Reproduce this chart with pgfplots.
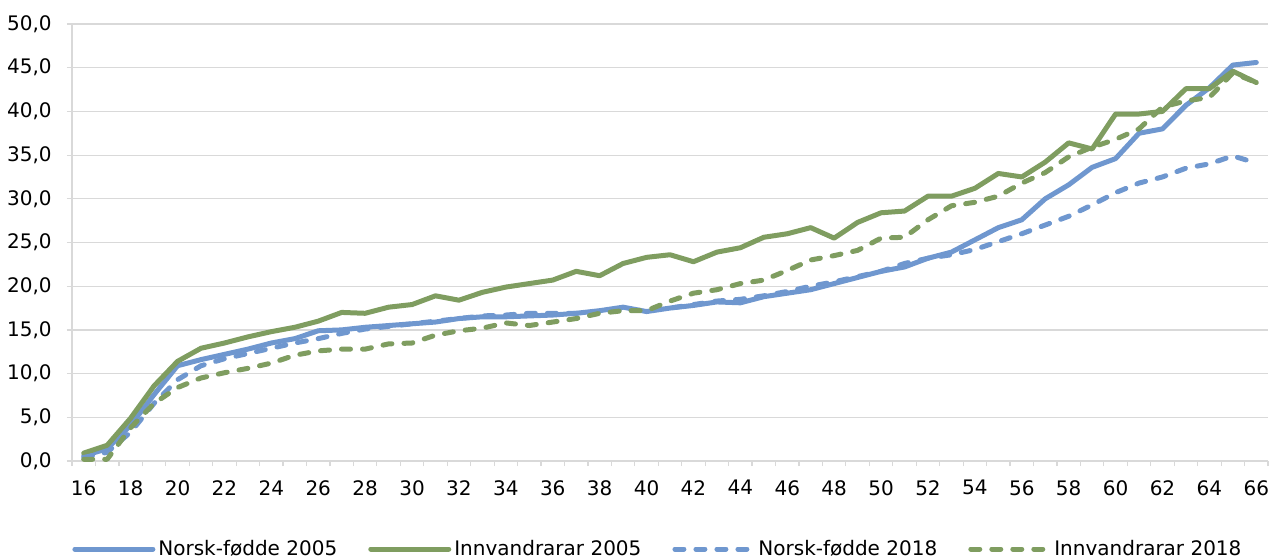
\documentclass[border=0pt]{standalone}
\usepackage{fontspec}
\setmainfont{DejaVu Sans}
\usepackage{pgfplots}
\pgfplotsset{compat=1.18}
\definecolor{cblue}{RGB}{111,151,207}
\definecolor{cgreen}{RGB}{127,157,96}
\definecolor{cgrid}{RGB}{217,217,217}
\begin{document}
\begin{tikzpicture}
\begin{axis}[
  name=ax,
  scale only axis,
  width=598pt, height=218.5pt,
  xmin=15.5, xmax=66.5,
  ymin=0, ymax=50,
  axis x line*=bottom, axis y line*=left,
  axis line style={cgrid, line width=0.6pt, -},
  xtick={16,18,...,66},
  minor xtick={15.5,16.5,...,66.5},
  ytick={0,5,...,50},
  ymajorgrids,
  grid style={cgrid, line width=0.6pt},
  tick align=outside,
  major tick length=2.5pt, minor tick length=2.5pt,
  tick style={cgrid, line width=0.6pt},
  major x tick style={draw=none},
  font=\fontsize{10pt}{12pt}\selectfont,
  tick label style={font=\fontsize{10pt}{12pt}\selectfont, text=black},
  /pgf/number format/assume math mode=true,
  yticklabel style={/pgf/number format/fixed, /pgf/number format/fixed zerofill, /pgf/number format/precision=1, /pgf/number format/use comma},
  yticklabel style={inner xsep=0pt, xshift=-7.5pt},
  xticklabel style={inner ysep=0pt, yshift=-7pt},
  clip=false,
  legend columns=4,
  legend cell align=left,
  legend image code/.code={\draw[#1] (0pt,0pt) -- (39pt,0pt);},
  legend style={at={(0,0)}, anchor=west, yshift=-44pt, draw=none, fill=none,
    inner sep=0pt, font=\fontsize{10pt}{12pt}\selectfont,
    nodes={inner xsep=1.5pt},
    /tikz/every even column/.append style={column sep=14pt}},
  every axis plot/.append style={line width=2.5pt, line cap=round, line join=round},
]
\addplot[cblue] coordinates {
(16,0.6)(17,1.4)(18,4.1)(19,7.6)(20,10.9)(21,11.6)(22,12.2)(23,12.8)(24,13.5)(25,14.0)
(26,14.9)(27,15.0)(28,15.3)(29,15.5)(30,15.7)(31,15.9)(32,16.3)(33,16.5)(34,16.5)(35,16.6)
(36,16.7)(37,16.9)(38,17.2)(39,17.6)(40,17.1)(41,17.5)(42,17.8)(43,18.2)(44,18.1)(45,18.8)
(46,19.2)(47,19.6)(48,20.3)(49,21.0)(50,21.7)(51,22.2)(52,23.2)(53,23.9)(54,25.3)(55,26.7)
(56,27.6)(57,30.0)(58,31.6)(59,33.6)(60,34.6)(61,37.5)(62,38.0)(63,40.7)(64,42.7)(65,45.3)(66,45.6)};
\addlegendentry{Norsk-fødde 2005}
\addplot[cgreen] coordinates {
(16,0.9)(17,1.8)(18,4.9)(19,8.6)(20,11.4)(21,12.9)(22,13.5)(23,14.2)(24,14.8)(25,15.3)
(26,16.0)(27,17.0)(28,16.9)(29,17.6)(30,17.9)(31,18.9)(32,18.4)(33,19.3)(34,19.9)(35,20.3)
(36,20.7)(37,21.7)(38,21.2)(39,22.6)(40,23.3)(41,23.6)(42,22.8)(43,23.9)(44,24.4)(45,25.6)
(46,26.0)(47,26.7)(48,25.5)(49,27.3)(50,28.4)(51,28.6)(52,30.3)(53,30.3)(54,31.2)(55,32.9)
(56,32.5)(57,34.2)(58,36.4)(59,35.7)(60,39.7)(61,39.7)(62,40.0)(63,42.6)(64,42.6)(65,44.6)(66,43.3)};
\addlegendentry{Innvandrarar 2005}
\addplot[cblue, dash pattern=on 4.5pt off 6pt] coordinates {
(16,0.4)(17,1.0)(18,3.3)(19,6.6)(20,9.3)(21,10.9)(22,11.7)(23,12.3)(24,12.9)(25,13.5)
(26,14.0)(27,14.6)(28,15.1)(29,15.4)(30,15.7)(31,16.0)(32,16.3)(33,16.6)(34,16.7)(35,16.9)
(36,16.9)(37,16.9)(38,17.0)(39,17.3)(40,17.2)(41,17.5)(42,17.9)(43,18.3)(44,18.5)(45,18.9)
(46,19.4)(47,20.0)(48,20.5)(49,21.1)(50,21.7)(51,22.6)(52,23.2)(53,23.6)(54,24.2)(55,25.1)
(56,26.0)(57,27.0)(58,28.0)(59,29.3)(60,30.7)(61,31.8)(62,32.5)(63,33.5)(64,34.0)(65,34.9)(66,34.1)};
\addlegendentry{Norsk-fødde 2018}
\addplot[cgreen, dash pattern=on 4.5pt off 6pt] coordinates {
(16,0.2)(17,0.2)(18,3.8)(19,6.6)(20,8.4)(21,9.5)(22,10.1)(23,10.6)(24,11.2)(25,12.1)
(26,12.6)(27,12.8)(28,12.8)(29,13.4)(30,13.5)(31,14.4)(32,14.9)(33,15.2)(34,15.8)(35,15.5)
(36,15.9)(37,16.3)(38,16.9)(39,17.2)(40,17.2)(41,18.3)(42,19.2)(43,19.6)(44,20.3)(45,20.7)
(46,21.8)(47,23.0)(48,23.5)(49,24.1)(50,25.5)(51,25.6)(52,27.6)(53,29.2)(54,29.6)(55,30.3)
(56,31.8)(57,33.0)(58,34.8)(59,35.9)(60,36.8)(61,38.0)(62,40.5)(63,41.2)(64,41.6)(65,44.4)(66,43.3)};
\addlegendentry{Innvandrarar 2018}
\end{axis}
\pgfresetboundingbox
\path ([shift={(-36pt,-48pt)}]ax.south west) rectangle ([shift={(1.5pt,12pt)}]ax.north east);
\end{tikzpicture}
\end{document}
